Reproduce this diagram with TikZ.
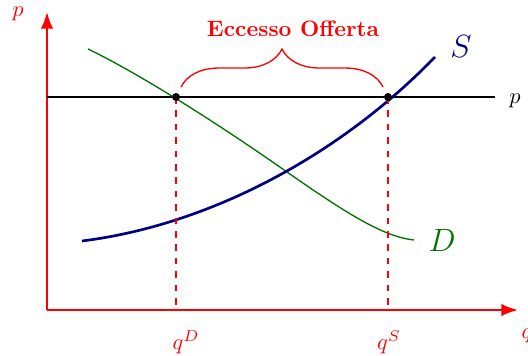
\documentclass[tikz,border=0pt]{standalone}
\usepackage{xcolor}
\usetikzlibrary{arrows.meta,decorations.pathreplacing}

\begin{document}
\begin{tikzpicture}[
  x=0.448pt, y=-0.448pt,
  axis/.style={red, line width=1pt, -Latex},
  guide/.style={red, dashed, semithick},
  level/.style={black, line width=1.3pt},
  supply/.style={blue!50!black, very thick},
  demand/.style={green!45!black, semithick},
  eqdot/.style={fill=black, radius=1.8pt},
  redlabel/.style={red, inner sep=1pt}
]
\useasboundingbox (0,0) rectangle (528,356);

% axes
\coordinate (o) at (47,310);
\coordinate (ytop) at (47,12);
\coordinate (xend) at (518,310);
\draw[axis] (o) -- (ytop);
\draw[axis] (o) -- (xend);
\node[redlabel] (plab) at (18,14) {$p$};
\node[redlabel] (qlab) at (527,336) {$q$};

% price level
\coordinate (pstart) at (47,97);
\coordinate (pend) at (495,97);
\draw[level] (pstart) -- (pend);
\node (pr) at (515,101) {$p$};

% curves
\draw[demand] (88,49) .. controls (140,74) and (220,125) .. (287,172)
  .. controls (350,216) and (385,237) .. (414,240);
\draw[supply] (82,241) .. controls (210,225) and (340,155) .. (435,57);
\node[green!45!black] (dlab) at (442,241) {\Large $D$};
\node[blue!50!black] (slab) at (461,47) {\Large $S$};

% quantities
\coordinate (eqD) at (176,97);
\coordinate (eqS) at (388,97);
\coordinate (qD) at (176,310);
\coordinate (qS) at (388,310);
\draw[guide] (eqD) -- (qD);
\draw[guide] (eqS) -- (qS);
\fill[eqdot] (eqD) circle;
\fill[eqdot] (eqS) circle;
\node[redlabel] (qDlab) at (186,342) {$q^D$};
\node[redlabel] (qSlab) at (389,342) {$q^S$};

% excess supply
\coordinate (bl) at (181,87);
\coordinate (br) at (383,87);
\draw[red, semithick, decorate, decoration={brace, amplitude=17pt}] (bl) -- (br);
\node[red] (exc) at (293,29) {\textbf{Eccesso Offerta}};
\end{tikzpicture}
\end{document}
